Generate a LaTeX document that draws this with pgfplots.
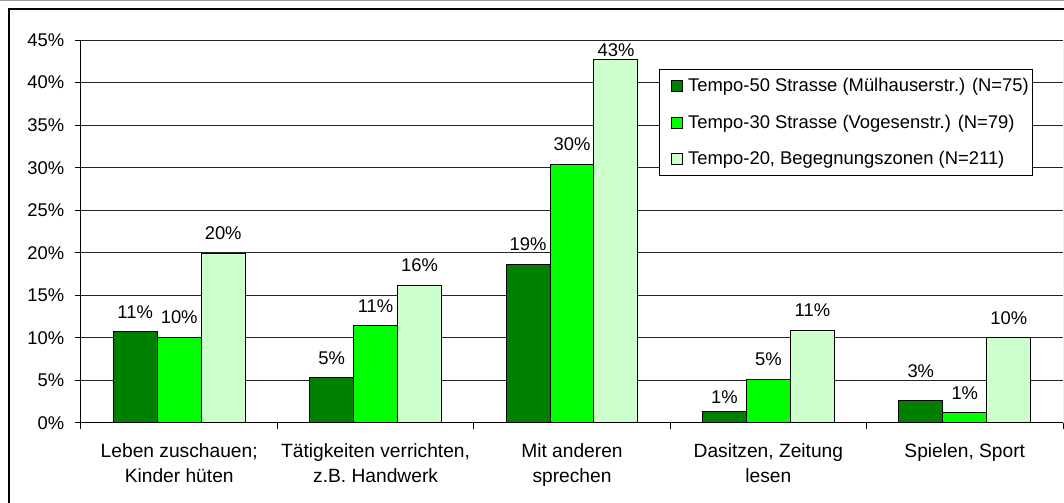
\documentclass[border=0pt]{standalone}
\usepackage{pgfplots}
\pgfplotsset{compat=1.18}
\usepackage{fontspec}
\setmainfont{Liberation Sans}

\definecolor{t50}{RGB}{0,128,0}
\definecolor{t30}{RGB}{0,255,0}
\definecolor{t20}{RGB}{204,255,204}

\begin{document}
\begin{tikzpicture}[font=\fontsize{13.8}{16}\selectfont]
\path[use as bounding box] (-60.75pt,-60pt) rectangle (737.25pt,317.25pt);
\begin{axis}[
    at={(0,0)}, anchor=south west,
    scale only axis,
    width=736.5pt, height=287.25pt,
    ybar=0pt, bar width=0.224,
    legend image code/.code={
        \path (0pt,0pt) (17.75pt,0pt);
        \draw[#1, line width=0.75pt] (7.8pt,-4.1pt) rectangle (16.05pt,4.1pt);},
    xmin=-0.5, xmax=4.5,
    ymin=0, ymax=45,
    axis x line*=bottom, axis y line*=left,
    axis line style={-, black, line width=0.75pt},
    xtick={0,1,2,3,4},
    xticklabels={{Leben zuschauen;\\Kinder hüten},
                 {Tätigkeiten verrichten,\\z.B. Handwerk},
                 {Mit anderen\\sprechen},
                 {Dasitzen, Zeitung\\lesen},
                 {Spielen, Sport}},
    minor xtick={-0.5,0.5,1.5,2.5,3.5,4.5},
    ytick={0,5,...,45},
    minor ytick={0,5,...,45},
    yticklabels={0\%,5\%,10\%,15\%,20\%,25\%,30\%,35\%,40\%,45\%},
    tick align=outside,
    major tick length=0pt, minor tick length=4.5pt,
    tick style={black, line width=0.75pt},
    xticklabel style={align=center, font=\fontsize{14.4}{18.75}\selectfont, yshift=-12pt},
    yticklabel style={xshift=-9pt},
    ymajorgrids,
    grid style={black!85, line width=0.75pt},
    /pgf/number format/assume math mode=true,
    visualization depends on={y \as \yval},
    nodes near coords={\pgfmathprintnumber[fixed,precision=0]{\pgfplotspointmeta}\%},
    every node near coord/.append style={text=black,
        yshift={ifthenelse(\yval>42,-1.5,ifthenelse(abs(\yval-2.7)<0.05,13,ifthenelse(abs(\yval-1.4)<0.05,2,6.5)))*1pt}},
    legend style={at={(0.5886,0.924)}, anchor=north west, draw=black,
        line width=0.75pt, inner xsep=1pt, inner ysep=4.5pt, row sep=12pt},
    legend cell align=left,
]
\addplot[fill=t50, draw=black, line width=0.75pt] coordinates {
    (0,10.7) (1,5.3) (2,18.6) (3,1.4) (4,2.7)
};
\addplot[fill=t30, draw=black, line width=0.75pt] coordinates {
    (0,10.1) (1,11.4) (2,30.4) (3,5.1) (4,1.2)
};
\addplot[fill=t20, draw=black, line width=0.75pt] coordinates {
    (0,19.9) (1,16.2) (2,42.7) (3,10.9) (4,10.0)
};
\legend{Tempo-50 Strasse (Mülhauserstr.) (N=75),
        Tempo-30 Strasse (Vogesenstr.) (N=79),
        {Tempo-20, Begegnungszonen (N=211)}}
\draw[black!45, line width=0.75pt] (rel axis cs:1,0) -- (rel axis cs:1,1);
\end{axis}
% outer chart frame
\draw[black, line width=1.1pt] (-54pt,-60pt) -- (-54pt,310.5pt) -- (737.25pt,310.5pt);
\draw[black!40, line width=0.75pt] (-60.75pt,316.9pt) -- (737.25pt,316.9pt);
\end{tikzpicture}
\end{document}
